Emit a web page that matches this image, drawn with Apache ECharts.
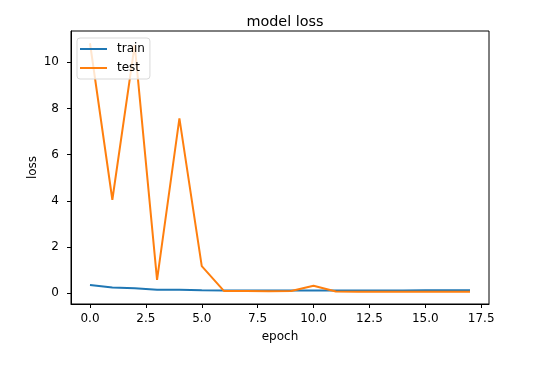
<!DOCTYPE html>
<html><head><meta charset="utf-8">
<script src="https://cdn.jsdelivr.net/npm/echarts@6/dist/echarts.min.js"></script>
<style>html,body{margin:0;padding:0;background:#fff}#c{width:553px;height:367px}</style>
</head><body><div id="c"></div>
<script>
const epochs = [0,1,2,3,4,5,6,7,8,9,10,11,12,13,14,15,16,17];
const trainLoss = [0.36,0.25,0.22,0.16,0.16,0.13,0.12,0.12,0.12,0.12,0.12,0.12,0.12,0.12,0.12,0.13,0.13,0.13];
const testLoss = [10.82,4.05,10.75,0.58,7.57,1.18,0.10,0.10,0.09,0.10,0.33,0.08,0.07,0.07,0.07,0.07,0.07,0.07];
const xTicks = [0,2.5,5,7.5,10,12.5,15,17.5];
const yTicks = [0,2,4,6,8,10];

const font = 'DejaVu Sans';
const chart = echarts.init(document.getElementById('c'));
chart.setOption({
  animation:false,
  backgroundColor:'#fff',
  title:{text:'model loss',left:280,top:10,textAlign:'center',textStyle:{fontFamily:font,fontSize:14.4,fontWeight:'normal',color:'#000'}},
  legend:{left:77,top:38,orient:'vertical',itemWidth:27,itemHeight:2,itemGap:5,
    padding:[4,5,4,3],borderColor:'#d9d9d9',borderWidth:1,borderRadius:3,backgroundColor:'rgba(255,255,255,0.8)',
    icon:'rect',textStyle:{fontFamily:font,fontSize:12,lineHeight:14,color:'#000',padding:[0,0,0,5]},data:['train','test']},
  grid:{left:71,right:64,top:31,bottom:63,show:true,borderColor:'#000',borderWidth:1},
  xAxis:{type:'value',min:-0.85,max:17.85,name:'epoch',nameLocation:'middle',nameGap:27,nameMoveOverlap:false,
    nameTextStyle:{fontFamily:font,fontSize:12,color:'#000'},
    axisLine:{onZero:false,lineStyle:{color:'#000'}},splitLine:{show:false},
    axisTick:{customValues:xTicks,length:4,lineStyle:{color:'#000'}},
    axisLabel:{customValues:xTicks,fontFamily:font,fontSize:12,color:'#000',margin:9,formatter:v=>v.toFixed(1)}},
  yAxis:{type:'value',min:-0.46,max:11.35,name:'loss',nameLocation:'middle',nameGap:32,nameMoveOverlap:false,nameRotate:90,
    nameTextStyle:{fontFamily:font,fontSize:12,color:'#000'},
    axisLine:{show:true,onZero:false,lineStyle:{color:'#000'}},splitLine:{show:false},
    axisTick:{show:true,customValues:yTicks,length:4,lineStyle:{color:'#000'}},
    axisLabel:{customValues:yTicks,fontFamily:font,fontSize:12,color:'#000',margin:12}},
  series:[
    {name:'train',type:'line',data:epochs.map((e,i)=>[e,trainLoss[i]]),showSymbol:false,symbol:'none',
      lineStyle:{color:'#1f77b4',width:2},itemStyle:{color:'#1f77b4'}},
    {name:'test',type:'line',data:epochs.map((e,i)=>[e,testLoss[i]]),showSymbol:false,symbol:'none',
      lineStyle:{color:'#ff7f0e',width:2},itemStyle:{color:'#ff7f0e'}}
  ]
});
</script></body></html>
